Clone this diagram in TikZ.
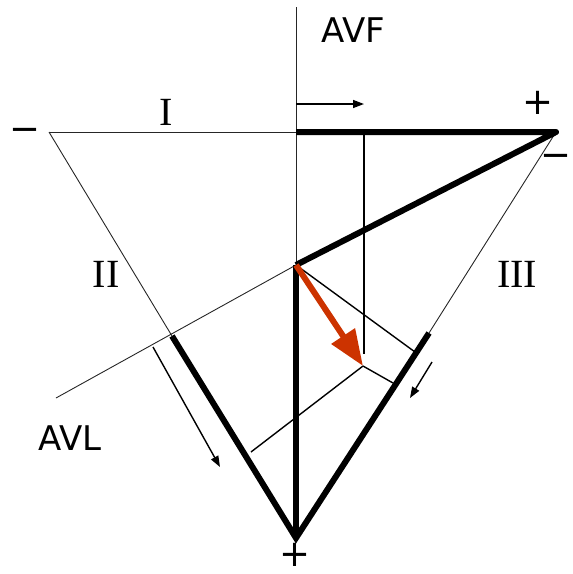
\documentclass[tikz,border=0pt]{standalone}
\usepackage{fontspec}
\setmainfont{DejaVu Sans}
\newfontfamily\romfont{Liberation Serif}
\usetikzlibrary{arrows.meta}
\definecolor{vecred}{RGB}{204,51,0}
\tikzset{
  thinline/.style={line width=0.9pt, black!85},
  thickline/.style={line width=6pt, line join=round},
  projline/.style={line width=1.4pt},
  smallarrow/.style={line width=1.4pt, -{Triangle[length=11pt,width=8pt]}},
  lab/.style={font=\fontsize{34}{36}\selectfont, inner sep=0pt},
  romlab/.style={font=\romfont\fontsize{40}{42}\selectfont, inner sep=0pt},
  sign/.style={font=\fontsize{37}{39}\selectfont, inner sep=0pt}
}
\begin{document}
\begin{tikzpicture}[x=1pt,y=-1pt]
\useasboundingbox (0,0) rectangle (573,574);
% named points
\coordinate (L) at (49,132);
\coordinate (R) at (556,132);
\coordinate (B) at (296,538);
\coordinate (C) at (296,265);
\coordinate (Top) at (296,7);
\coordinate (C1) at (296,132);
\coordinate (P1) at (364,132);
\coordinate (P1e) at (364,354);
\coordinate (T) at (363,366);
\coordinate (S2) at (172,336);
\coordinate (S3) at (429,333);
\coordinate (A) at (56,398);
\coordinate (F3c) at (415,352);
\coordinate (F3t) at (393,383);
\coordinate (F2t) at (251,452);
\coordinate (a1s) at (296,104);
\coordinate (a1e) at (364,104);
\coordinate (a2s) at (153,347);
\coordinate (a2e) at (220,467);
\coordinate (a3s) at (432,362);
\coordinate (a3e) at (410,398);
% thin lines
\draw[thinline] (Top) -- (B);
\draw[thinline] (L) -- (C1);
\draw[thinline] (L) -- (S2);
\draw[thinline] (R) -- (S3);
\draw[thinline] (A) -- (C);
% projection lines
\draw[projline] (P1) -- (P1e);
\draw[projline] (C) -- (F3c);
\draw[projline] (T) -- (F3t);
\draw[projline] (T) -- (F2t);
% thick lines
\draw[thickline] (C1) -- (R) -- (C);
\draw[thickline] (C) -- (B);
\draw[thickline, line join=miter] (S2) -- (B) -- (S3);
% arrows
\draw[smallarrow] (a1s) -- (a1e);
\draw[smallarrow] (a2s) -- (a2e);
\draw[smallarrow] (a3s) -- (a3e);
% red vector
\draw[vecred, line width=6pt, -{Triangle[length=36pt,width=27pt]}] (C) -- (T);
% labels
\node[lab] (avf) at (353,30) {AVF};
\node[lab] (avl) at (70,438) {AVL};
\node[romlab] (l1) at (166,112) {I};
\node[romlab] (l2) at (106,274) {II};
\node[romlab] (l3) at (517,274) {III};
\node[sign] (pr) at (538,103) {+};
\node[sign] (pb) at (295,555) {+};
\node[sign] (ml) at (25,135) {−};
\node[sign] (mr) at (556,161) {−};
\end{tikzpicture}
\end{document}
